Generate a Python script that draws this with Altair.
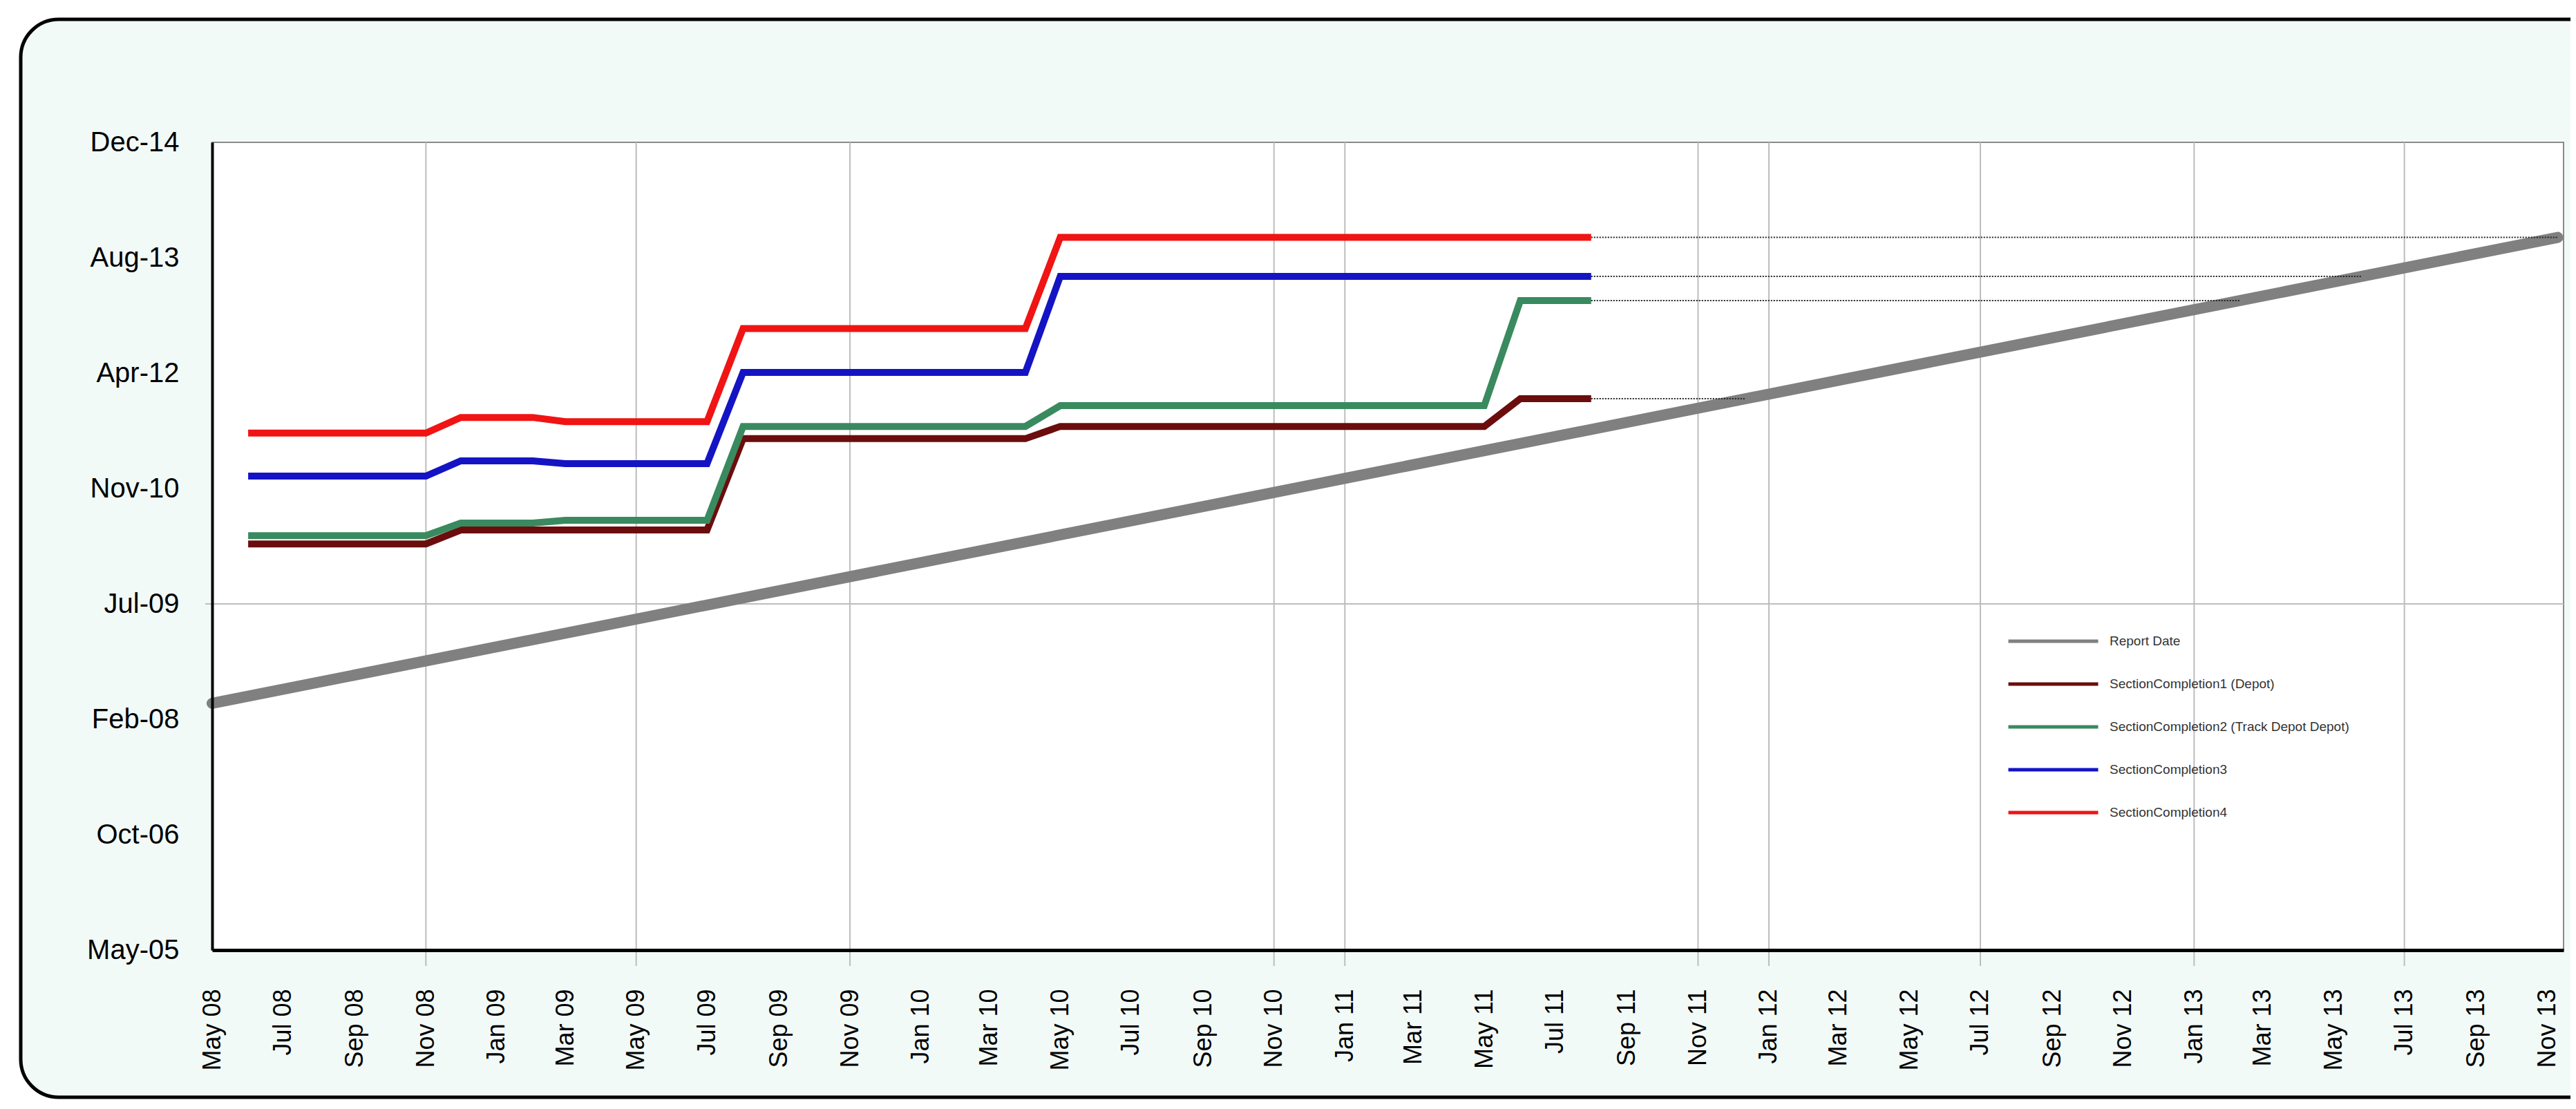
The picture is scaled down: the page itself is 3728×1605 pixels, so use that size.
import altair as alt
import pandas as pd

W, H = 3403, 1169

# ---- data ----
report_dates = ["2008-06-01", "2008-11-01", "2008-12-01", "2009-02-01", "2009-03-01", "2009-07-01",
                "2009-08-01", "2010-04-01", "2010-05-01", "2011-05-01", "2011-06-01", "2011-08-01"]

series_names = ["Report Date", "SectionCompletion1 (Depot)", "SectionCompletion2 (Track Depot Depot)",
                "SectionCompletion3", "SectionCompletion4"]
series_colors = ["#808080", "#6B0D0D", "#3A8A5F", "#1414C4", "#F01414"]

sc1 = ["2010-03-23", "2010-03-23", "2010-05-22", "2010-05-22", "2010-05-22", "2010-05-22",
       "2011-06-22", "2011-06-22", "2011-08-14", "2011-08-14", "2011-12-12", "2011-12-12"]
sc2 = ["2010-04-28", "2010-04-28", "2010-06-21", "2010-06-21", "2010-07-03", "2010-07-03",
       "2011-08-14", "2011-08-14", "2011-11-12", "2011-11-12", "2013-02-09", "2013-02-09"]
sc3 = ["2011-01-11", "2011-01-11", "2011-03-18", "2011-03-18", "2011-03-06", "2011-03-06",
       "2012-04-04", "2012-04-04", "2013-05-25", "2013-05-25", "2013-05-25", "2013-05-25"]
sc4 = ["2011-07-16", "2011-07-16", "2011-09-22", "2011-09-22", "2011-09-04", "2011-09-04",
       "2012-10-11", "2012-10-11", "2013-11-10", "2013-11-10", "2013-11-10", "2013-11-10"]

report_line_dates = ["2008-05-01", "2013-11-10"]

y_ticks = ["2005-05-28", "2006-10-10", "2008-02-22", "2009-07-06", "2010-11-18",
           "2012-04-01", "2013-08-14", "2014-12-27"]
x_domain = ["2008-05-01", "2013-11-15"]
x_ticks = ["2008-05-01", "2008-07-01", "2008-09-01", "2008-11-01", "2009-01-01", "2009-03-01",
           "2009-05-01", "2009-07-01", "2009-09-01", "2009-11-01", "2010-01-01", "2010-03-01",
           "2010-05-01", "2010-07-01", "2010-09-01", "2010-11-01", "2011-01-01", "2011-03-01",
           "2011-05-01", "2011-07-01", "2011-09-01", "2011-11-01", "2012-01-01", "2012-03-01",
           "2012-05-01", "2012-07-01", "2012-09-01", "2012-11-01", "2013-01-01", "2013-03-01",
           "2013-05-01", "2013-07-01", "2013-09-01", "2013-11-01"]
v_grid = ["2008-11-01", "2009-05-01", "2009-11-01", "2010-11-01", "2011-01-01", "2011-11-01",
          "2012-01-01", "2012-07-01", "2013-01-01", "2013-07-01"]
h_grid = ["2009-07-06"]


def loc(s):
    return s + "T00:00:00"


def dt(s):
    y, m, d = (int(p) for p in s.split("-"))
    return alt.DateTime(year=y, month=m, date=d)


# ---- tables ----
rows = []
for name, vals in zip(series_names[1:], [sc1, sc2, sc3, sc4]):
    for d, v in zip(report_dates, vals):
        rows.append({"series": name, "date": loc(d), "value": loc(v)})
df_series = pd.DataFrame(rows)

df_report = pd.DataFrame({"series": series_names[0],
                          "date": [loc(d) for d in report_line_dates],
                          "value": [loc(d) for d in report_line_dates]})

conn = []
for name, vals in zip(series_names[1:], [sc1, sc2, sc3, sc4]):
    conn.append({"series": name, "date": loc(report_dates[-1]), "value": loc(vals[-1])})
    conn.append({"series": name, "date": loc(vals[-1]), "value": loc(vals[-1])})
df_conn = pd.DataFrame(conn)

df_vgrid = pd.DataFrame({"date": [loc(d) for d in v_grid]})
df_hgrid = pd.DataFrame({"value": [loc(d) for d in h_grid]})
df_one = pd.DataFrame({"k": [0]})

xscale = alt.Scale(domain=[dt(d) for d in x_domain], nice=False)
yscale = alt.Scale(domain=[dt(y_ticks[0]), dt(y_ticks[-1])], nice=False)

x_axis = alt.Axis(values=[dt(d) for d in x_ticks], format="%b %y", labelAngle=270,
                  labelFontSize=36, labelFont="Liberation Sans", labelColor="#000000",
                  labelPadding=56, ticks=False, grid=False, domainColor="#000000",
                  domainWidth=5, labelFlush=False, labelOverlap=False, title=None, zindex=1)
y_axis = alt.Axis(values=[dt(d) for d in y_ticks], format="%b-%y", labelFontSize=40,
                  labelFont="Liberation Sans", labelColor="#000000", labelPadding=48,
                  ticks=False, grid=False, domainColor="#000000", domainWidth=4,
                  labelOverlap=False, title=None, zindex=1)

color = alt.Color("series:N",
                  scale=alt.Scale(domain=series_names, range=series_colors),
                  legend=alt.Legend(title=None, orient="none", legendX=2597, legendY=691,
                                    symbolType="stroke", symbolSize=16900, symbolStrokeWidth=5,
                                    labelFontSize=19, labelFont="Liberation Sans",
                                    labelColor="#333333", labelOffset=14, rowPadding=0,
                                    clipHeight=62, labelLimit=0, symbolOpacity=1))

frame = alt.Chart(df_one).mark_rect(fill="#F2FAF8", stroke="#000000", strokeWidth=5,
                                    cornerRadius=55).encode(
    x=alt.value(-277), x2=alt.value(W + 200), y=alt.value(-178), y2=alt.value(H + 213))

plotbg = alt.Chart(df_one).mark_rect(fill="#FFFFFF", stroke="#8A8A8A", strokeWidth=2).encode(
    x=alt.value(0), x2=alt.value(W), y=alt.value(0), y2=alt.value(H))

vgrid = alt.Chart(df_vgrid).mark_rule(color="#BDBDBD", strokeWidth=2).encode(
    x=alt.X("date:T", scale=xscale, axis=x_axis), y=alt.value(0), y2=alt.value(H + 23))

hgrid = alt.Chart(df_hgrid).mark_rule(color="#BDBDBD", strokeWidth=2).encode(
    y=alt.Y("value:T", scale=yscale, axis=y_axis), x=alt.value(-10), x2=alt.value(W))

report = alt.Chart(df_report).mark_line(strokeWidth=16, strokeCap="round").encode(
    x=alt.X("date:T", scale=xscale, axis=x_axis),
    y=alt.Y("value:T", scale=yscale, axis=y_axis),
    color=color)

series = alt.Chart(df_series).mark_line(strokeWidth=10).encode(
    x=alt.X("date:T", scale=xscale, axis=x_axis),
    y=alt.Y("value:T", scale=yscale, axis=y_axis),
    color=color, order=alt.Order("date:T"))

connectors = alt.Chart(df_conn).mark_line(strokeWidth=2, strokeDash=[2, 2], color="#222222").encode(
    x=alt.X("date:T", scale=xscale, axis=x_axis),
    y=alt.Y("value:T", scale=yscale, axis=y_axis),
    detail="series:N")

chart = alt.layer(frame, plotbg, vgrid, hgrid, report, series, connectors).properties(
    width=W, height=H,
    autosize=alt.AutoSizeParams(type="none"),
    padding={"left": 299, "top": 198, "right": 10, "bottom": 218},
    background="#FFFFFF",
).configure_view(stroke=None)

chart.save("out.html", embed_options={"renderer": "svg", "actions": False})
